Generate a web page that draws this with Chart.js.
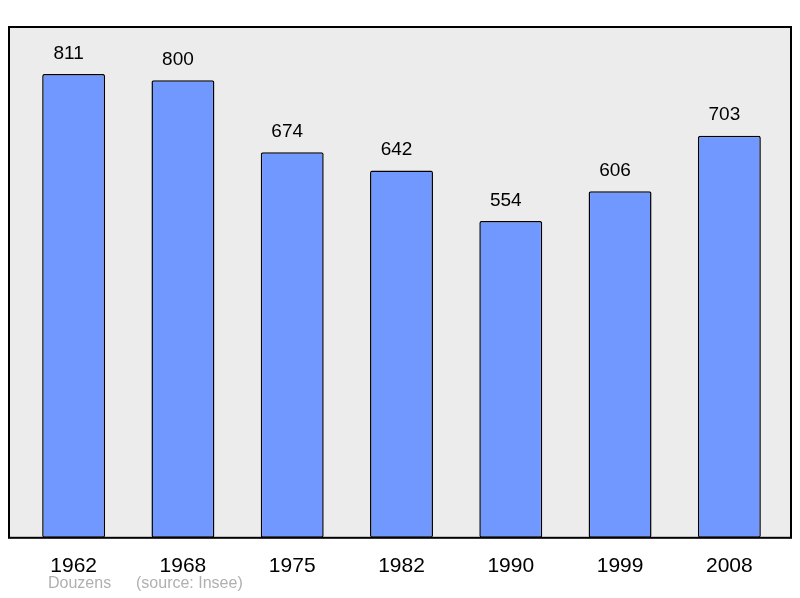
<!DOCTYPE html>
<html><head><meta charset="utf-8">
<script src="https://cdn.jsdelivr.net/npm/chart.js@4"></script>
<style>html,body{margin:0;background:#fff}#wrap{width:800px;height:598px}</style>
</head><body><div id="wrap"><canvas id="c"></canvas></div>
<script>
const years = ['1962', '1968', '1975', '1982', '1990', '1999', '2008'];
const population = [811, 800, 674, 642, 554, 606, 703];

const frame = {
    id: 'frame',
    beforeDraw(chart) {
        const {ctx, chartArea: a} = chart;
        ctx.save();
        ctx.fillStyle = '#ececec';
        ctx.fillRect(9, a.top, 782, a.bottom - a.top);
        ctx.restore();
    },
    afterDatasetsDraw(chart) {
        const {ctx, chartArea: a} = chart;
        ctx.save();
        ctx.strokeStyle = '#000';
        ctx.lineWidth = 2;
        ctx.strokeRect(9, a.top, 782, a.bottom - a.top);
        ctx.font = '19px "Liberation Sans", Arial, sans-serif';
        ctx.fillStyle = '#000';
        ctx.textAlign = 'center';
        ctx.textBaseline = 'bottom';
        chart.getDatasetMeta(0).data.forEach((bar, i) => {
            ctx.fillText(population[i], bar.x - 5, bar.y - 11);
        });
        ctx.font = '16px "Liberation Sans", Arial, sans-serif';
        ctx.fillStyle = '#b0b0b0';
        ctx.textAlign = 'left';
        ctx.textBaseline = 'middle';
        ctx.fillText('Douzens', 48, 584);
        ctx.fillText('(source: Insee)', 136, 584);
        ctx.restore();
    }
};

new Chart(document.getElementById('c'), {
    type: 'bar',
    data: {
        labels: years,
        datasets: [{
            data: population,
            backgroundColor: '#7098ff',
            borderColor: '#000',
            borderWidth: 1.5,
            borderRadius: 2,
            borderSkipped: false,
            barPercentage: 0.576,
            categoryPercentage: 1
        }]
    },
    options: {
        responsive: true,
        maintainAspectRatio: false,
        animation: false,
        layout: {padding: {left: 19, right: 16, top: 27, bottom: 11}},
        plugins: {legend: {display: false}, tooltip: {enabled: false}},
        scales: {
            x: {
                grid: {display: false},
                border: {display: false},
                ticks: {padding: 8, color: '#000', font: {size: 21, family: '"Liberation Sans", Arial, sans-serif'}}
            },
            y: {display: false, min: 0, max: 893}
        }
    },
    plugins: [frame]
});
</script></body></html>
